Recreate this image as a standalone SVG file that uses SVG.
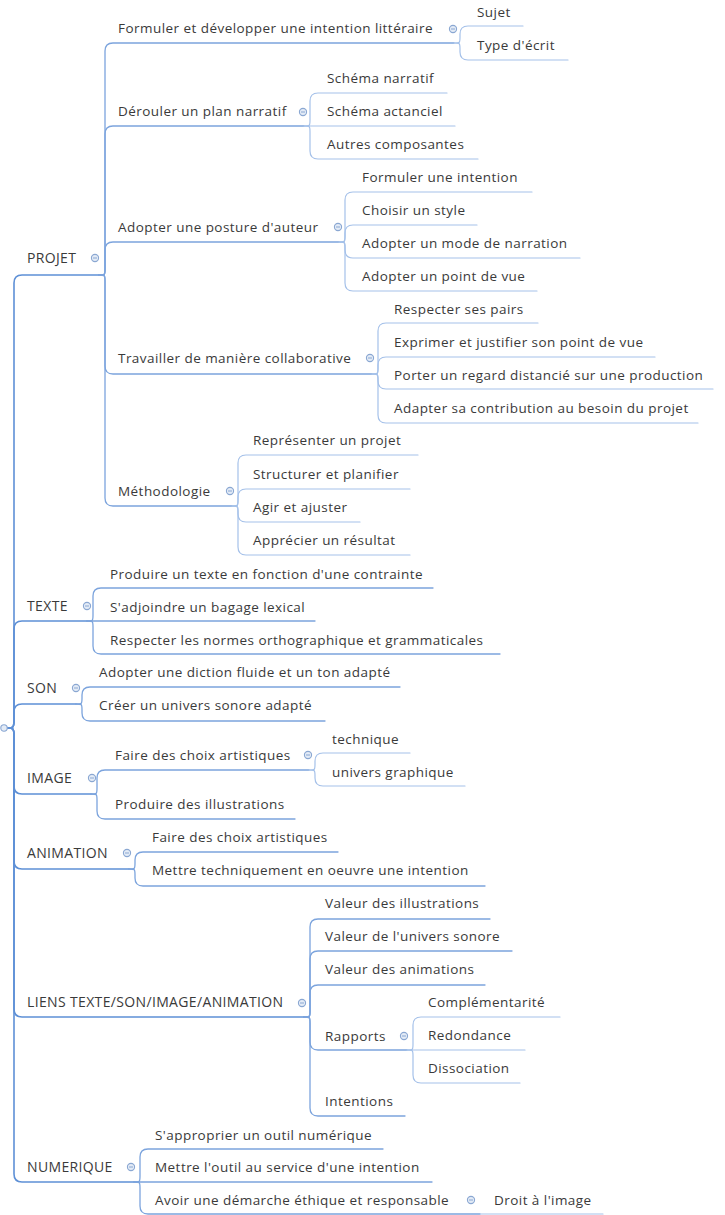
<svg xmlns="http://www.w3.org/2000/svg" width="725" height="1215" viewBox="0 0 725 1215">
<defs>
<style>
.bg{fill:#ffffff}
text{font-family:"Open Sans","Noto Sans",sans-serif;font-size:13.5px;letter-spacing:0.45px;fill:#3a3a3a}
text.t1{font-size:14px;letter-spacing:0.35px}
path{fill:none;stroke-linecap:round;stroke-linejoin:round}
.l1{stroke:#5e90d6;stroke-width:1.6}
.l2{stroke:#7ca4dd;stroke-width:1.3}
.l3{stroke:#a5c1e9;stroke-width:1.2}
.tg circle{fill:#e3ebf6;stroke:#8aa7d2;stroke-width:1.1}
.tg line{stroke:#8aa7d2;stroke-width:1}
</style>
</defs>
<rect class="bg" x="0" y="0" width="725" height="1215"/>

<g id="connectors">
<path class="l1" d="M7,728 C13,728 14,728 14,720 L14,283 Q14,275 22,275 L99,275"/>
<path class="l1" d="M7,728 C13,728 14,728 14,720 L14,629 Q14,621 22,621 L87,621"/>
<path class="l1" d="M7,728 C13,728 14,728 14,720 L14,712 Q14,704 22,704 L76,704"/>
<path class="l1" d="M7,728 C13,728 14,728 14,736 L14,786 Q14,794 22,794 L91,794"/>
<path class="l1" d="M7,728 C13,728 14,728 14,736 L14,861 Q14,869 22,869 L129,869"/>
<path class="l1" d="M7,728 C13,728 14,728 14,736 L14,1009 Q14,1017 22,1017 L304,1017"/>
<path class="l1" d="M7,728 C13,728 14,728 14,736 L14,1174 Q14,1182 22,1182 L134,1182"/>
<path class="l2" d="M99,275 C105,275 105,275 105,269 L105,51 Q105,43 113,43 L454,43"/>
<path class="l2" d="M99,275 C105,275 105,275 105,269 L105,134 Q105,126 113,126 L304,126"/>
<path class="l2" d="M99,275 C105,275 105,275 105,269 L105,250 Q105,242 113,242 L339,242"/>
<path class="l2" d="M99,275 C105,275 105,275 105,281 L105,366 Q105,374 113,374 L372,374"/>
<path class="l2" d="M99,275 C105,275 105,275 105,281 L105,498 Q105,506 113,506 L232,506"/>
<path class="l3" d="M454,43 C460,43 460,43 460,37 L460,34 Q460,26 468,26 L523,26"/>
<path class="l3" d="M454,43 C460,43 460,43 460,49 L460,52 Q460,60 468,60 L568,60"/>
<path class="l3" d="M304,126 C310,126 310,126 310,120 L310,101 Q310,93 318,93 L447,93"/>
<path class="l3" d="M304,126 L455,126"/>
<path class="l3" d="M304,126 C310,126 310,126 310,132 L310,151 Q310,159 318,159 L478,159"/>
<path class="l3" d="M339,242 C345,242 345,242 345,236 L345,200 Q345,192 353,192 L532,192"/>
<path class="l3" d="M339,242 C345,242 345,242 345,236 L345,233 Q345,225 353,225 L477,225"/>
<path class="l3" d="M339,242 C345,242 345,242 345,248 L345,250 Q345,258 353,258 L580,258"/>
<path class="l3" d="M339,242 C345,242 345,242 345,248 L345,283 Q345,291 353,291 L537,291"/>
<path class="l3" d="M372,374 C378,374 378,374 378,368 L378,331 Q378,323 386,323 L538,323"/>
<path class="l3" d="M372,374 C378,374 378,374 378,368 L378,365 Q378,357 386,357 L655,357"/>
<path class="l3" d="M372,374 C378,374 378,374 378,380 L378,381 Q378,389 386,389 L713,389"/>
<path class="l3" d="M372,374 C378,374 378,374 378,380 L378,415 Q378,423 386,423 L698,423"/>
<path class="l3" d="M232,506 C238,506 238,506 238,500 L238,463 Q238,455 246,455 L418,455"/>
<path class="l3" d="M232,506 C238,506 238,506 238,500 L238,497 Q238,489 246,489 L410,489"/>
<path class="l3" d="M232,506 C238,506 238,506 238,512 L238,514 Q238,522 246,522 L360,522"/>
<path class="l3" d="M232,506 C238,506 238,506 238,512 L238,547 Q238,555 246,555 L410,555"/>
<path class="l2" d="M87,621 C93,621 93,621 93,615 L93,596 Q93,588 101,588 L433,588"/>
<path class="l2" d="M87,621 L315,621"/>
<path class="l2" d="M87,621 C93,621 93,621 93,627 L93,646 Q93,654 101,654 L500,654"/>
<path class="l2" d="M76,704 C82,704 82,704 82,698 L82,695 Q82,687 90,687 L400,687"/>
<path class="l2" d="M76,704 C82,704 82,704 82,710 L82,713 Q82,721 90,721 L325,721"/>
<path class="l2" d="M91,794 C97,794 97,794 97,788 L97,778 Q97,770 105,770 L309,770"/>
<path class="l2" d="M91,794 C97,794 97,794 97,800 L97,811 Q97,819 105,819 L295,819"/>
<path class="l3" d="M309,770 C315,770 315,770 315,764 L315,761 Q315,753 323,753 L410,753"/>
<path class="l3" d="M309,770 C315,770 315,770 315,776 L315,778 Q315,786 323,786 L465,786"/>
<path class="l2" d="M129,869 C135,869 135,869 135,863 L135,860 Q135,852 143,852 L338,852"/>
<path class="l2" d="M129,869 C135,869 135,869 135,875 L135,878 Q135,886 143,886 L485,886"/>
<path class="l2" d="M304,1017 C310,1017 310,1017 310,1011 L310,927 Q310,919 318,919 L490,919"/>
<path class="l2" d="M304,1017 C310,1017 310,1017 310,1011 L310,959 Q310,951 318,951 L512,951"/>
<path class="l2" d="M304,1017 C310,1017 310,1017 310,1011 L310,993 Q310,985 318,985 L485,985"/>
<path class="l2" d="M304,1017 C310,1017 310,1017 310,1023 L310,1042 Q310,1050 318,1050 L407,1050"/>
<path class="l2" d="M304,1017 C310,1017 310,1017 310,1023 L310,1108 Q310,1116 318,1116 L405,1116"/>
<path class="l3" d="M407,1050 C413,1050 413,1050 413,1044 L413,1025 Q413,1017 421,1017 L560,1017"/>
<path class="l3" d="M407,1050 L525,1050"/>
<path class="l3" d="M407,1050 C413,1050 413,1050 413,1056 L413,1075 Q413,1083 421,1083 L520,1083"/>
<path class="l2" d="M134,1182 C140,1182 140,1182 140,1176 L140,1157 Q140,1149 148,1149 L383,1149"/>
<path class="l2" d="M134,1182 L432,1182"/>
<path class="l2" d="M134,1182 C140,1182 140,1182 140,1188 L140,1206 Q140,1214 148,1214 L480,1214"/>
<path class="l3" d="M480,1214 L603,1214"/>
</g>

<g id="root" class="tg"><circle cx="4" cy="728" r="3.2"/></g>

<g id="n-projet"><text class="t1" x="27" y="263">PROJET</text><g class="tg"><circle cx="95" cy="258" r="3.6"/><line x1="93" y1="258" x2="97" y2="258"/></g></g>
<g id="n-formuler"><text x="118" y="32.5">Formuler et développer une intention littéraire</text><g class="tg"><circle cx="453" cy="29" r="3.6"/><line x1="451" y1="29" x2="455" y2="29"/></g></g>
<g id="n-sujet"><text x="477" y="16.5">Sujet</text></g>
<g id="n-type"><text x="477" y="49.5">Type d'écrit</text></g>
<g id="n-derouler"><text x="118" y="115.5">Dérouler un plan narratif</text><g class="tg"><circle cx="303" cy="112" r="3.6"/><line x1="301" y1="112" x2="305" y2="112"/></g></g>
<g id="n-schema-n"><text x="327" y="82.5">Schéma narratif</text></g>
<g id="n-schema-a"><text x="327" y="115.5">Schéma actanciel</text></g>
<g id="n-autres"><text x="327" y="148.5">Autres composantes</text></g>
<g id="n-posture"><text x="118" y="231.5">Adopter une posture d'auteur</text><g class="tg"><circle cx="338" cy="227" r="3.6"/><line x1="336" y1="227" x2="340" y2="227"/></g></g>
<g id="n-form-int"><text x="362" y="181.5">Formuler une intention</text></g>
<g id="n-style"><text x="362" y="214.5">Choisir un style</text></g>
<g id="n-mode"><text x="362" y="247.5">Adopter un mode de narration</text></g>
<g id="n-pdv"><text x="362" y="280.5">Adopter un point de vue</text></g>
<g id="n-travailler"><text x="118" y="362.5">Travailler de manière collaborative</text><g class="tg"><circle cx="370" cy="358" r="3.6"/><line x1="368" y1="358" x2="372" y2="358"/></g></g>
<g id="n-pairs"><text x="394" y="313.5">Respecter ses pairs</text></g>
<g id="n-exprimer"><text x="394" y="346.5">Exprimer et justifier son point de vue</text></g>
<g id="n-porter"><text x="394" y="379.5">Porter un regard distancié sur une production</text></g>
<g id="n-adapter"><text x="394" y="412.5">Adapter sa contribution au besoin du projet</text></g>
<g id="n-methodo"><text x="118" y="495.5">Méthodologie</text><g class="tg"><circle cx="230" cy="491" r="3.6"/><line x1="228" y1="491" x2="232" y2="491"/></g></g>
<g id="n-representer"><text x="253" y="444.5">Représenter un projet</text></g>
<g id="n-structurer"><text x="253" y="478.5">Structurer et planifier</text></g>
<g id="n-agir"><text x="253" y="511.5">Agir et ajuster</text></g>
<g id="n-apprecier"><text x="253" y="544.5">Apprécier un résultat</text></g>

<g id="n-texte"><text class="t1" x="27" y="611">TEXTE</text><g class="tg"><circle cx="87" cy="606" r="3.6"/><line x1="85" y1="606" x2="89" y2="606"/></g></g>
<g id="n-produire-t"><text x="110" y="578.5">Produire un texte en fonction d'une contrainte</text></g>
<g id="n-adjoindre"><text x="110" y="611.5">S'adjoindre un bagage lexical</text></g>
<g id="n-normes"><text x="110" y="644.5">Respecter les normes orthographique et grammaticales</text></g>

<g id="n-son"><text class="t1" x="27" y="693">SON</text><g class="tg"><circle cx="76" cy="688" r="3.6"/><line x1="74" y1="688" x2="78" y2="688"/></g></g>
<g id="n-diction"><text x="99" y="676.5">Adopter une diction fluide et un ton adapté</text></g>
<g id="n-univers-s"><text x="99" y="709.5">Créer un univers sonore adapté</text></g>

<g id="n-image"><text class="t1" x="27" y="783">IMAGE</text><g class="tg"><circle cx="92" cy="778" r="3.6"/><line x1="90" y1="778" x2="94" y2="778"/></g></g>
<g id="n-choix-i"><text x="115" y="759.5">Faire des choix artistiques</text><g class="tg"><circle cx="308" cy="755" r="3.6"/><line x1="306" y1="755" x2="310" y2="755"/></g></g>
<g id="n-technique"><text x="332" y="743.5">technique</text></g>
<g id="n-univers-g"><text x="332" y="776.5">univers graphique</text></g>
<g id="n-illus"><text x="115" y="808.5">Produire des illustrations</text></g>

<g id="n-animation"><text class="t1" x="27" y="858">ANIMATION</text><g class="tg"><circle cx="127" cy="853" r="3.6"/><line x1="125" y1="853" x2="129" y2="853"/></g></g>
<g id="n-choix-a"><text x="152" y="841.5">Faire des choix artistiques</text></g>
<g id="n-mettre-t"><text x="152" y="874.5">Mettre techniquement en oeuvre une intention</text></g>

<g id="n-liens"><text class="t1" x="27" y="1007">LIENS TEXTE/SON/IMAGE/ANIMATION</text><g class="tg"><circle cx="302" cy="1003" r="3.6"/><line x1="300" y1="1003" x2="304" y2="1003"/></g></g>
<g id="n-v-illus"><text x="325" y="907.5">Valeur des illustrations</text></g>
<g id="n-v-univers"><text x="325" y="940.5">Valeur de l'univers sonore</text></g>
<g id="n-v-anim"><text x="325" y="973.5">Valeur des animations</text></g>
<g id="n-rapports"><text x="325" y="1040.5">Rapports</text><g class="tg"><circle cx="404" cy="1036" r="3.6"/><line x1="402" y1="1036" x2="406" y2="1036"/></g></g>
<g id="n-compl"><text x="428" y="1006.5">Complémentarité</text></g>
<g id="n-redond"><text x="428" y="1039.5">Redondance</text></g>
<g id="n-dissoc"><text x="428" y="1072.5">Dissociation</text></g>
<g id="n-intentions"><text x="325" y="1105.5">Intentions</text></g>

<g id="n-numerique"><text class="t1" x="27" y="1172">NUMERIQUE</text><g class="tg"><circle cx="131" cy="1167" r="3.6"/><line x1="129" y1="1167" x2="133" y2="1167"/></g></g>
<g id="n-approprier"><text x="155" y="1139.5">S'approprier un outil numérique</text></g>
<g id="n-outil"><text x="155" y="1171.5">Mettre l'outil au service d'une intention</text></g>
<g id="n-ethique"><text x="155" y="1204.5">Avoir une démarche éthique et responsable</text><g class="tg"><circle cx="471" cy="1200" r="3.6"/><line x1="469" y1="1200" x2="473" y2="1200"/></g></g>
<g id="n-droit"><text x="494" y="1204.5">Droit à l'image</text></g>
</svg>
